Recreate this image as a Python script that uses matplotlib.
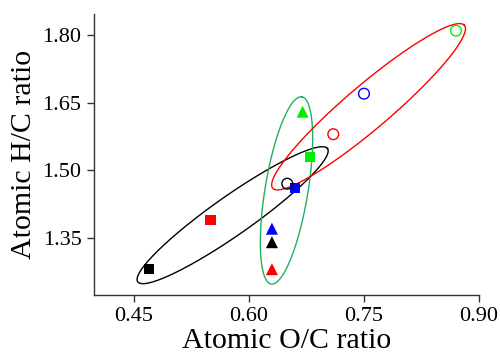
import numpy as np
import matplotlib
matplotlib.use("Agg")
import matplotlib.pyplot as plt

plt.rcParams['font.family'] = ['Liberation Serif', 'DejaVu Serif']

# atomic ratios
sq_x = [0.47, 0.55, 0.66, 0.68]
sq_y = [1.28, 1.39, 1.46, 1.53]
sq_colors = ['black', 'red', 'blue', '#00ee00']
tri_x = [0.63, 0.63, 0.63, 0.67]
tri_y = [1.37, 1.34, 1.28, 1.63]
tri_colors = ['blue', 'black', 'red', '#00ee00']
cir_x = [0.65, 0.71, 0.75, 0.87]
cir_y = [1.47, 1.58, 1.67, 1.81]
cir_colors = ['black', 'red', 'blue', '#00ee00']

# hand-drawn group ellipses: the two ends of the long axis (data units)
# and the half width across it (pixels)
ell_end1 = [(0.455, 1.252), (0.629, 1.247), (0.631, 1.460)]
ell_end2 = [(0.7025, 1.548), (0.669, 1.663), (0.881, 1.822)]
ell_halfwidth = [19.5, 21.5, 22]
ell_colors = ['black', '#22b060', 'red']

x_ticks = [0.45, 0.60, 0.75, 0.90]
y_ticks = [1.35, 1.50, 1.65, 1.80]

fig = plt.figure(figsize=(5, 3.6), dpi=100)
ax = fig.add_axes([0.188, 0.181, 0.770, 0.780])
ax.set_xlim(0.398, 0.90)
ax.set_ylim(1.223, 1.847)


def draw_ellipse(p1, p2, hw, col):
    a, b = ax.transData.transform([p1, p2])
    c = (a + b) / 2
    u = (b - a) / 2
    n = np.array([-u[1], u[0]]) / np.hypot(*u) * hw
    t = np.linspace(0, 2 * np.pi, 300)
    pts = c + np.outer(np.cos(t), u) + np.outer(np.sin(t), n)
    d = ax.transData.inverted().transform(pts)
    ax.plot(d[:, 0], d[:, 1], color=col, lw=1.0)


for p1, p2, hw, col in zip(ell_end1, ell_end2, ell_halfwidth, ell_colors):
    draw_ellipse(p1, p2, hw, col)

ax.scatter(sq_x, sq_y, marker='s', s=55, c=sq_colors, linewidths=0, zorder=3)
ax.scatter(tri_x, tri_y, marker='^', s=75, c=tri_colors, linewidths=0, zorder=3)
ax.scatter(cir_x, cir_y, marker='o', s=60, facecolors='none', edgecolors=cir_colors,
           linewidths=1.0, zorder=3)

ax.set_xticks(x_ticks)
ax.set_xticklabels(['%.2f' % v for v in x_ticks])
ax.set_yticks(y_ticks)
ax.set_yticklabels(['%.2f' % v for v in y_ticks])
for s in ['top', 'right']:
    ax.spines[s].set_visible(False)
for s in ['left', 'bottom']:
    ax.spines[s].set_color('#333333')
    ax.spines[s].set_linewidth(1.0)
ax.tick_params(direction='out', length=5, width=1, color='#333333', labelsize=16, pad=4)
ax.set_xlabel('Atomic O/C ratio', fontsize=21.5, labelpad=1)
ax.set_ylabel('Atomic H/C ratio', fontsize=21.5, labelpad=4)

fig.savefig('out.png', dpi=100)
